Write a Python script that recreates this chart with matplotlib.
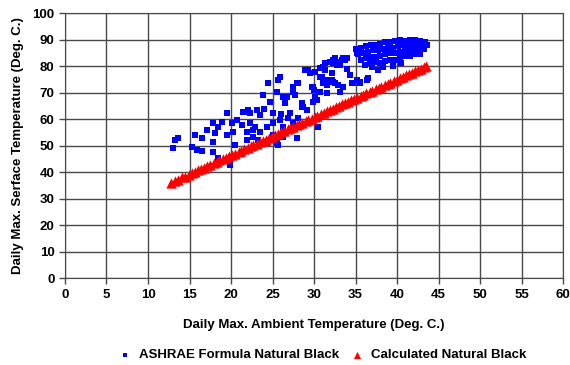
import numpy as np
from matplotlib import pyplot as plt

# ASHRAE formula points
ashrae_x = [13.0, 13.25, 13.6, 15.3, 15.7, 15.9, 16.5, 16.5, 17.1, 17.8, 17.8, 17.8,
            18.1, 18.4, 18.4, 18.6, 18.9, 19.5, 19.5, 19.9, 19.9, 20.1, 20.2, 20.5,
            20.7, 21.3, 21.4, 21.9, 21.9, 21.9, 21.9, 22.0, 22.3, 22.3, 22.7, 22.7,
            22.9, 23.1, 23.1, 23.3, 23.5, 23.5, 23.9, 24.3, 24.3, 24.5, 24.7, 25.1,
            25.1, 25.1, 25.5, 25.5, 25.7, 25.7, 25.9, 26.3, 26.3, 26.3, 26.5, 26.9,
            27.1, 27.5, 27.5, 27.7, 27.9, 28.1, 28.1, 28.6, 28.9, 29.2, 29.3, 29.5,
            29.8, 30.1, 30.5, 30.7, 31.1, 31.3, 31.6, 32.2, 32.2, 32.3, 32.3, 32.5,
            32.5, 32.8, 32.8, 33.1, 33.1, 33.5, 33.5, 33.7, 34.3, 34.7, 35.5, 35.5,
            36.4, 36.5, 24.0, 26.0, 28.5, 30.0, 31.0, 34.0,
            29.2, 29.5, 30.1, 30.7, 31.3, 31.9, 32.5, 33.4, 34.0, 35.2, 31.1, 31.7,
            32.3, 32.9, 34.3, 34.6, 35.2, 29.9, 30.7, 31.6, 30.4, 28.0, 27.5, 25.9,
            26.7, 28.7, 29.9,
            35.0, 35.6, 36.2, 36.8, 37.4, 38.0, 38.6, 39.2, 39.8, 40.4, 41.0, 41.6,
            42.2, 42.8, 43.4,
            35.3, 35.9, 36.5, 37.1, 37.7, 38.3, 38.9, 39.5, 40.1, 40.7, 41.3, 41.9,
            42.5, 43.1, 43.6,
            35.6, 36.2, 36.8, 37.4, 38.0, 38.6, 39.2, 39.8, 40.4, 41.0, 41.6, 42.2,
            42.8, 43.3,
            36.1, 36.7, 37.3, 37.9, 38.5, 39.1, 39.7, 40.3, 40.9, 41.5, 42.1, 42.7,
            37.0, 37.7, 38.3, 39.5, 40.5]
ashrae_y = [49.0, 52.0, 52.8, 49.4, 54.0, 48.3, 47.9, 52.8, 55.8, 58.5, 51.3, 47.5,
            54.7, 57.0, 45.3, 43.8, 58.9, 62.3, 54.0, 42.6, 43.4, 58.5, 55.0, 50.2,
            59.6, 57.7, 62.6, 62.6, 55.0, 55.0, 52.0, 63.4, 62.3, 58.5, 55.8, 53.2,
            57.0, 63.4, 63.4, 52.0, 61.5, 55.0, 69.0, 57.0, 50.9, 73.6, 66.4, 62.3,
            58.5, 54.0, 70.2, 50.9, 74.7, 50.2, 59.6, 68.3, 57.0, 53.2, 66.0, 60.4,
            62.3, 72.0, 58.5, 69.0, 52.8, 73.6, 60.4, 64.5, 78.5, 63.4, 78.5, 77.4,
            72.0, 68.3, 57.0, 75.8, 79.6, 78.5, 72.8, 77.4, 74.7, 81.1, 82.3, 73.6,
            82.0, 80.4, 81.5, 80.4, 70.2, 72.0, 83.0, 82.3, 76.6, 73.6, 74.0, 73.6,
            74.7, 75.5, 64.0, 62.0, 66.0, 71.0, 76.0, 79.0,
            78.5, 77.4, 77.7, 79.2, 81.1, 81.5, 83.0, 82.3, 83.0, 84.9, 73.6, 74.7,
            74.0, 72.8, 76.6, 73.6, 74.7, 72.0, 70.2, 69.8, 67.2, 73.6, 70.2, 75.8,
            68.3, 64.5, 66.4,
            86.5, 87.0, 87.5, 88.0, 88.0, 88.5, 89.0, 89.0, 89.5, 90.0, 89.5, 90.0,
            90.0, 89.5, 89.0,
            84.5, 85.0, 85.5, 86.0, 86.0, 86.5, 87.0, 87.0, 87.5, 88.0, 88.0, 88.0,
            88.0, 87.5, 88.0,
            82.5, 83.0, 83.5, 83.5, 84.0, 84.5, 85.0, 85.0, 85.5, 86.0, 86.0, 86.5,
            86.0, 86.5,
            80.5, 81.0, 81.5, 81.0, 82.0, 82.5, 82.5, 83.0, 84.0, 84.0, 84.5, 84.5,
            79.5, 78.5, 79.5, 80.0, 81.0]

# calculated natural black (red triangles)
calc_x = [12.8, 13.2, 13.6, 14.1, 14.5, 14.9, 15.3, 15.7, 16.0, 16.4, 16.8, 17.1,
          17.5, 17.9, 18.3, 18.6, 19.0, 19.4, 19.8, 20.1, 20.5, 20.9, 21.2, 21.6,
          22.0, 22.4, 22.7, 23.1, 23.5, 23.8, 24.2, 24.6, 24.9, 25.3, 25.7, 26.0,
          26.4, 26.8, 27.1, 27.5, 27.9, 28.2, 28.6, 29.0, 29.3, 29.7, 30.1, 30.4,
          30.8, 31.2, 31.5, 31.9, 32.3, 32.6, 33.0, 33.4, 33.7, 34.1, 34.5, 34.8,
          35.2, 35.6, 35.9, 36.3, 36.7, 37.0, 37.4, 37.8, 38.1, 38.5, 38.9, 39.2,
          39.6, 40.0, 40.3, 40.7, 41.1, 41.4, 41.8, 42.2, 42.5, 42.9, 43.3, 43.5]
calc_y = [36.0, 36.6, 37.2, 38.0, 38.3, 39.1, 39.5, 40.2, 40.7, 41.2, 41.6, 42.2,
          42.7, 43.4, 43.9, 44.4, 44.8, 45.5, 46.1, 46.5, 47.0, 47.7, 48.1, 48.6,
          49.2, 49.9, 50.2, 50.8, 51.3, 51.9, 52.3, 53.0, 53.4, 54.0, 54.5, 55.0,
          55.6, 56.1, 56.6, 57.1, 57.8, 58.1, 58.7, 59.3, 59.7, 60.2, 60.9, 61.3,
          61.8, 62.4, 62.9, 63.4, 64.0, 64.5, 64.9, 65.6, 66.0, 66.6, 67.1, 67.6,
          68.1, 68.7, 69.2, 69.7, 70.2, 70.7, 71.3, 71.8, 72.3, 72.8, 73.4, 73.8,
          74.4, 74.9, 75.4, 76.0, 76.5, 76.9, 77.5, 78.1, 78.5, 79.1, 79.7, 80.0]

plt.rcParams['font.family'] = ['Liberation Sans', 'DejaVu Sans']
plt.rcParams['font.weight'] = 'bold'

fig = plt.figure(figsize=(5.7, 3.65), dpi=100)
ax = fig.add_axes([0.114, 0.238, 0.874, 0.726])

ax.scatter(ashrae_x, ashrae_y, marker="s", s=19, color="#0000ff", linewidths=0,
           label="ASHRAE Formula Natural Black", zorder=3)
ax.scatter(calc_x, calc_y, marker="^", s=55, color="#ff0000", linewidths=0,
           label="Calculated Natural Black", zorder=4)

ax.set_xlim(0, 60)
ax.set_ylim(0, 100)
ax.set_xticks(np.arange(0, 61, 5))
ax.set_yticks(np.arange(0, 101, 10))
ax.grid(True, color="#484848", linewidth=1.0)
ax.set_axisbelow(True)
for s in ax.spines.values():
    s.set_color("#484848")
ax.tick_params(colors="#484848", labelcolor="black", labelsize=9.5, length=4, width=1)
for lab in ax.get_xticklabels() + ax.get_yticklabels():
    lab.set_fontweight("bold")

ax.set_xlabel("Daily Max. Ambient Temperature (Deg. C.)", fontsize=9.5, fontweight="bold", labelpad=13)
ax.set_ylabel("Daily Max. Serface Temperature (Deg. C.)", fontsize=9.5, fontweight="bold", labelpad=6)

fig.legend(loc="lower center", bbox_to_anchor=(0.56, -0.022), ncol=2, frameon=False,
           handletextpad=0.05, columnspacing=0.4, markerscale=0.7,
           prop={"weight": "bold", "size": 9.5})

fig.savefig("out.png", dpi=100)
